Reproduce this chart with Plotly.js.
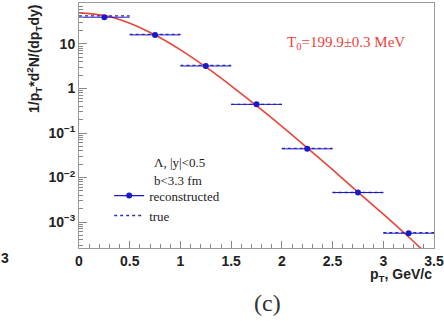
<!DOCTYPE html>
<html>
<head>
<meta charset="utf-8">
<script src="https://cdn.plot.ly/plotly-3.0.1.min.js"></script>
<style>html,body{margin:0;padding:0;background:#fff;}#chart{width:444px;height:321px;}</style>
</head>
<body>
<div id="chart"></div>
<script>
// bin centres (pT, GeV/c) and half-width
const binCenters = [0.25, 0.75, 1.25, 1.75, 2.25, 2.75, 3.25];
const binHalf = 0.25;
// reconstructed spectrum
const recoValues = [40, 16, 3.2, 0.44, 0.044, 0.0046, 0.00056];
// true spectrum (bin-wise)
const trueValues = [43, 16.5, 3.3, 0.44, 0.045, 0.0046, 0.00058];
// fit curve
const fitX = [0, 0.25, 0.5, 0.75, 1.0, 1.25, 1.5, 1.75, 2.0, 2.25, 2.5, 2.75, 3.0, 3.25, 3.4];
const fitY = [50, 43.5, 29.3, 15.9, 7.4, 3.05, 1.15, 0.41, 0.141, 0.0465, 0.015, 0.0047, 0.0015, 0.00046, 0.00022];
// axis ticks
const xTicks = [0, 0.5, 1, 1.5, 2, 2.5, 3, 3.5];
const xTickText = ['0', '0.5', '1', '1.5', '2', '2.5', '3', '3.5'];
const yTicks = [0.001, 0.01, 0.1, 1, 10];
const yTickText = ['10<sup>−3</sup>', '10<sup>−2</sup>', '10<sup>−1</sup>', '1', '10'];

// build step segments for "true"
const trueX = [], trueY = [];
binCenters.forEach((c, i) => {
  trueX.push(c - binHalf, c + binHalf, null);
  trueY.push(trueValues[i], trueValues[i], null);
});
// isolated points so legend shows line+marker while no connecting line is drawn
const recoX = [], recoY = [], recoErr = [];
binCenters.forEach((c, i) => {
  recoX.push(c, null);
  recoY.push(recoValues[i], null);
  recoErr.push(binHalf, null);
});

const blue = '#1a1ac8';
const traces = [
  {x: fitX, y: fitY, mode: 'lines', line: {color: '#e8433c', width: 1.6, shape: 'spline'}, showlegend: false, hoverinfo: 'skip'},
  {x: trueX, y: trueY, mode: 'lines', name: 'true', line: {color: '#3030a0', width: 1.3, dash: 'dot'}, connectgaps: false, legendrank: 2},
  {x: recoX, y: recoY, mode: 'lines+markers', name: 'reconstructed', connectgaps: false,
   line: {color: blue, width: 1.2}, marker: {color: blue, size: 6, symbol: 'circle'},
   error_x: {type: 'data', array: recoErr, visible: true, color: blue, thickness: 1, width: 0}, legendrank: 1}
];

const tickFont = {family: 'Liberation Sans, Arial, sans-serif', size: 14, color: '#222', weight: 'bold'};
const serif = 'Liberation Serif, Times New Roman, serif';
const layout = {
  width: 444, height: 321,
  margin: {l: 79, r: 10, t: 3, b: 73},
  paper_bgcolor: '#fff', plot_bgcolor: '#fff',
  showlegend: true,
  legend: {x: 0.085, y: 0.275, xanchor: 'left', yanchor: 'top', bgcolor: 'rgba(0,0,0,0)',
           font: {family: serif, size: 13, color: '#222'}, tracegroupgap: 0, itemwidth: 30},
  xaxis: {
    type: 'linear', range: [0, 3.5], tickmode: 'array', tickvals: xTicks, ticktext: xTickText,
    ticks: 'inside', ticklen: 7, tickcolor: '#888', showline: true, linecolor: '#999', linewidth: 1, mirror: true,
    showgrid: false, zeroline: false, tickfont: tickFont,
    minor: {dtick: 0.1, ticks: 'inside', ticklen: 4, tickcolor: '#888', showgrid: false}
  },
  yaxis: {
    type: 'log', range: [-3.584, 1.921], tickmode: 'array', tickvals: yTicks, ticktext: yTickText,
    ticks: 'inside', ticklen: 8, tickcolor: '#888', showline: true, linecolor: '#999', linewidth: 1, mirror: true,
    showgrid: false, zeroline: false, tickfont: tickFont,
    minor: {dtick: 'D1', ticks: 'inside', ticklen: 4, tickcolor: '#888', showgrid: false}
  },
  annotations: [
    {xref: 'paper', yref: 'paper', x: -0.127, y: 0.771, xanchor: 'center', yanchor: 'middle', textangle: -90, showarrow: false,
     text: '1/p<sub>T</sub>*d<sup>2</sup>N/(dp<sub>T</sub>dy)', font: tickFont},
    {xref: 'paper', yref: 'paper', x: 1.0, y: -0.11, xanchor: 'right', yanchor: 'middle', showarrow: false,
     text: 'p<sub>T</sub>, GeV/c', font: tickFont},
    {xref: 'paper', yref: 'paper', x: 0.532, y: -0.224, xanchor: 'center', yanchor: 'middle', showarrow: false,
     text: '(c)', font: {family: serif, size: 24, color: '#333'}},
    {xref: 'paper', yref: 'paper', x: 0.753, y: 0.837, xanchor: 'center', yanchor: 'middle', showarrow: false,
     text: 'T<sub>0</sub>=199.9±0.3 MeV', font: {family: serif, size: 15, color: '#e8433c'}},
    {xref: 'paper', yref: 'paper', x: 0.205, y: 0.351, xanchor: 'left', yanchor: 'middle', showarrow: false,
     text: 'Λ, |y|<0.5', font: {family: serif, size: 13, color: '#222'}},
    {xref: 'paper', yref: 'paper', x: 0.205, y: 0.275, xanchor: 'left', yanchor: 'middle', showarrow: false,
     text: 'b<3.3 fm', font: {family: serif, size: 13, color: '#222'}},
    {xref: 'paper', yref: 'paper', x: -0.208, y: -0.041, xanchor: 'center', yanchor: 'middle', showarrow: false,
     text: '3', font: tickFont}
  ]
};
Plotly.newPlot('chart', traces, layout, {displayModeBar: false, staticPlot: true});
</script>
</body>
</html>
